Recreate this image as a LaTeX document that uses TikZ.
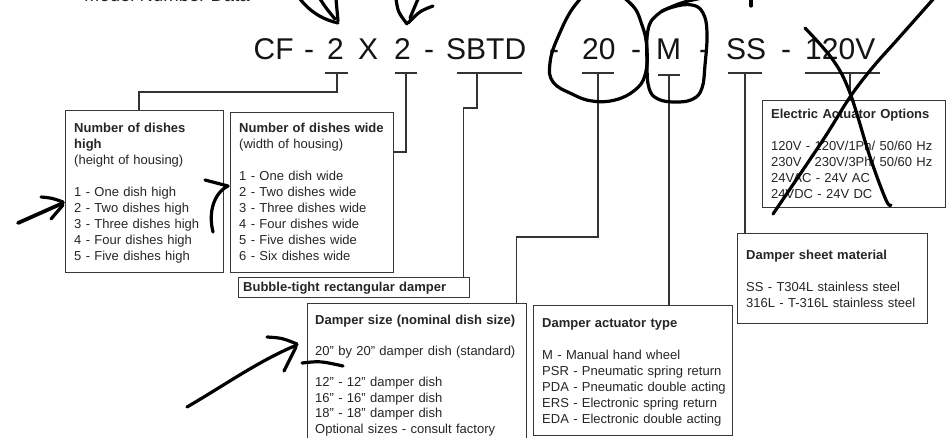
\documentclass[tikz,border=0pt]{standalone}
\usepackage{fontspec}
\setmainfont{Liberation Sans}
\begin{document}
\begin{tikzpicture}[x=1pt,y=-1pt,
  code/.style={anchor=base west, inner sep=0, font=\fontsize{30}{36}\selectfont, text=black!92},
  boxframe/.style={draw=black!78, line width=1.1pt, anchor=north west, inner sep=0},
  boxtext/.style={anchor=north west, inner sep=0, align=left, text width=230pt, font=\fontsize{13}{16}\selectfont, text=black!85},
  wire/.style={draw=black!80, line width=1.1pt},
  ink/.style={draw=black, line width=3.2pt, line cap=round, line join=round},
]
\useasboundingbox (0,0) rectangle (950,438);
\clip (0,0) rectangle (950,438);
\fill[white] (0,0) rectangle (950,438);

% title (cut off at top)
\node[anchor=base west, inner sep=0, font=\fontsize{18.5}{22}\selectfont, text=black!85] (title) at (84,2) {Model Number Data};

% model code
\node[code] (cf) at (253.5,60) {CF};
\node[code] (h1) at (304,60) {-};
\node[code] (n1) at (327,60) {2};
\node[code] (xx) at (358,60) {X};
\node[code] (n2) at (394,60) {2};
\node[code] (h2) at (424,60) {-};
\node[code] (sb) at (446,60) {SBTD};
\node[code] (h3) at (549,60) {-};
\node[code] (sz) at (582,60) {20};
\node[code] (h4) at (631,60) {-};
\node[code] (mm) at (656,60) {M};
\node[code] (h5) at (699,60) {-};
\node[code] (ss) at (726,60) {SS};
\node[code] (h6) at (781,60) {-};
\node[code] (vv) at (805,60) {120V};

% bars under code parts
\draw[wire] (325,73) -- (348,73);
\draw[wire] (395,73) -- (417,73);
\draw[wire] (457,73) -- (522,73);
\draw[wire] (582,73) -- (614,73);
\draw[wire] (658,75) -- (680,75);
\draw[wire] (728,73) -- (762,73);
\draw[wire] (805,73) -- (880,73);
\coordinate (k1) at (337,73);
\coordinate (k2) at (406,73);
\coordinate (k3) at (477,73);
\coordinate (k4) at (598,73);
\coordinate (k5) at (669,75);
\coordinate (k6) at (745,73);
\coordinate (k7) at (850,73);

% boxes
\node[boxframe, minimum width=158pt, minimum height=162pt] (b1) at (65,110) {};
\node[boxframe, minimum width=163pt, minimum height=160pt] (b2) at (230,112) {};
\node[boxframe, minimum width=231pt, minimum height=20pt] (b3) at (238,277) {};
\node[boxframe, minimum width=219pt, minimum height=150pt] (b4) at (307,303) {};
\node[boxframe, minimum width=199pt, minimum height=130pt] (b5) at (533,305) {};
\node[boxframe, minimum width=190pt, minimum height=90pt] (b6) at (737,233) {};
\node[boxframe, minimum width=183pt, minimum height=107pt] (b7) at (762,100) {};

% box texts
\node[boxtext] (t1) at (74,120.8) {\strut\textbf{Number of dishes}\\ \textbf{high}\\ (height of housing)\\ \mbox{}\\ 1 - One dish high\\ 2 - Two dishes high\\ 3 - Three dishes high\\ 4 - Four dishes high\\ 5 - Five dishes high};
\node[boxtext] (t2) at (239,120.8) {\strut\textbf{Number of dishes wide}\\ (width of housing)\\ \mbox{}\\ 1 - One dish wide\\ 2 - Two dishes wide\\ 3 - Three dishes wide\\ 4 - Four dishes wide\\ 5 - Five dishes wide\\ 6 - Six dishes wide};
\node[boxtext] (t3) at (243,279.8) {\strut\textbf{Bubble-tight rectangular damper}};
\node[boxtext, font=\fontsize{13}{15.6}\selectfont] (t4) at (315,313.1) {\strut\textbf{Damper size (nominal dish size)}\\ \mbox{}\\ 20" by 20" damper dish (standard)\\ \mbox{}\\ 12" - 12" damper dish\\ 16" - 16" damper dish\\ 18" - 18" damper dish\\ Optional sizes - consult factory};
\node[boxtext] (t5) at (542,315.8) {\strut\textbf{Damper actuator type}\\ \mbox{}\\ M - Manual hand wheel\\ PSR - Pneumatic spring return\\ PDA - Pneumatic double acting\\ ERS - Electronic spring return\\ EDA - Electronic double acting};
\node[boxtext] (t6) at (746,247.8) {\strut\textbf{Damper sheet material}\\ \mbox{}\\ SS - T304L stainless steel\\ 316L - T-316L stainless steel};
\node[boxtext] (t7) at (771,106.8) {\strut\textbf{Electric Actuator Options}\\ \mbox{}\\ 120V - 120V/1Ph/ 50/60 Hz\\ 230V - 230V/3Ph/ 50/60 Hz\\ 24VAC - 24V AC\\ 24VDC - 24V DC};

% connectors
\draw[wire] (k1) -- ++(0,19) -| ([xshift=74pt]b1.north west);
\draw[wire] (k2) |- ([yshift=-40pt]b2.north east);
\draw[wire] (k3) -- ++(0,35) -| ([xshift=-7pt]b3.north east);
\draw[wire] (k4) -- ++(0,164) -| ([xshift=-11pt]b4.north east);
\draw[wire] (k5) -- (k5 |- b5.north);
\draw[wire] (k6) -- (k6 |- b6.north);
\draw[wire] (k7) -- (k7 |- b7.north);

% hand-drawn marks
\draw[ink] (300,-1) .. controls (312,14) and (325,20) .. (338,23);
\draw[ink] (320,-1) .. controls (326,8) .. (335,19);
\draw[ink] (336,-1) -- (338,21);
\draw[ink] (396,-1) .. controls (398,12) .. (407,24);
\draw[ink] (433,6) .. controls (420,11) .. (408,23);
\draw[ink] (418,-1) -- (410,18);
\draw[ink] plot[smooth cycle, tension=0.7] coordinates {(600,-14) (576,4) (558,37) (550,63) (553,82) (572,94) (592,101) (615,100) (635,90) (645,75) (647,50) (642,25) (630,3)};
\draw[ink] plot[smooth cycle, tension=0.7] coordinates {(648,30) (647,63) (649,88) (658,99) (676,102) (693,99) (702,88) (705,65) (707,33) (703,13) (692,5) (673,7) (657,15)};
\draw[ink] (662,11) .. controls (682,2) .. (712,-4);
\draw[ink] (751,-2) -- (751,6);
\draw[ink] plot[smooth, tension=0.6] coordinates {(936,-4) (897,40) (873,67) (850,97) (823,140) (773,214)};
\draw[ink] plot[smooth, tension=0.6] coordinates {(805,28) (833,60) (850,93) (870,157) (886,200) (891,205)};
\draw[ink, line width=3.8pt] (18,223) -- (63,203);
\draw[ink] (41,197) .. controls (52,198) .. (63,202);
\draw[ink] (51,219) -- (63,205);
\draw[ink] (213,232) .. controls (208,212) and (214,193) .. (228,186);
\draw[ink] (205,180) -- (228,186);
\draw[ink] (187,407) .. controls (225,385) and (260,360) .. (297,345);
\draw[ink] (267,337) .. controls (282,338) .. (297,344);
\draw[ink] (296,347) -- (284,371);
\draw[ink] (302,363) .. controls (320,361) .. (343,366);
\end{tikzpicture}
\end{document}
